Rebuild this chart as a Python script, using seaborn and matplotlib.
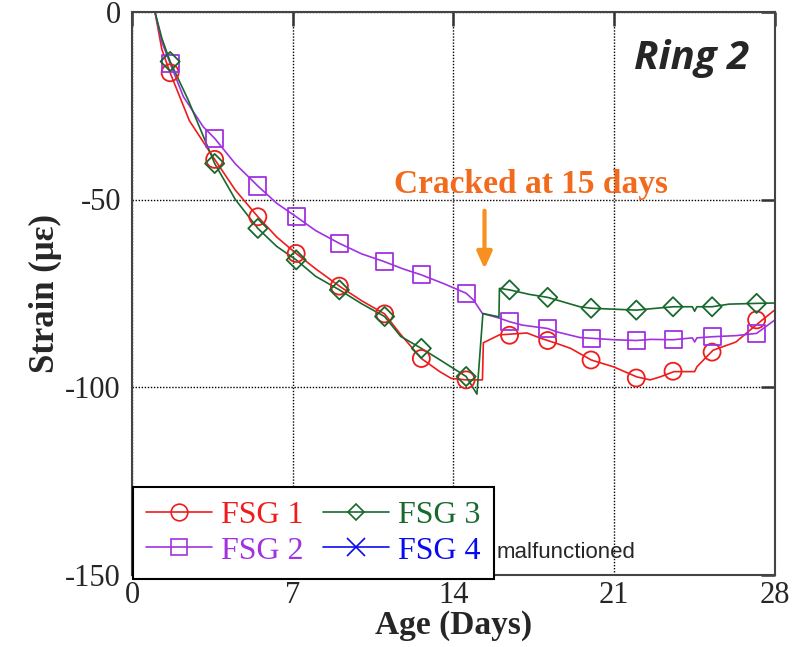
import numpy as np
import pandas as pd
import matplotlib
matplotlib.use("Agg")
import matplotlib.pyplot as plt
from matplotlib.lines import Line2D
import seaborn as sns

# ---------------- data ----------------
marker_days = [1.66, 3.6, 5.48, 7.15, 9.03, 11.0, 12.6, 14.55, 16.44, 18.1, 19.99, 21.96, 23.56, 25.26, 27.2]
fsg1_markers = [-16.2, -39.3, -54.6, -64.4, -73.1, -80.5, -92.4, -98.1, -86.2, -87.6, -92.8, -97.6, -95.8, -90.7, -82.1]
fsg2_markers = [-13.7, -33.7, -46.4, -54.6, -61.7, -66.6, -70.1, -75.0, -82.6, -84.4, -87.0, -87.6, -87.4, -86.6, -85.7]
fsg3_markers = [-13.2, -40.4, -57.7, -66.1, -74.1, -81.2, -89.7, -97.2, -74.1, -76.1, -79.0, -79.5, -78.6, -78.6, -77.7]

fsg1_days = [1.0, 1.3, 1.66, 2.5, 3.6, 4.5, 5.48, 6.3, 7.15, 8.0, 9.03, 10.0, 11.0, 11.7, 12.6, 13.4, 13.9,
             14.55, 15.26, 15.3, 16.0, 17.2, 17.8, 18.5, 19.1, 20.0, 20.96, 21.98, 22.56, 23.0, 23.6, 24.5,
             24.6, 25.3, 26.3, 26.9, 27.45, 28.0]
fsg1_strain = [0.0, -10.0, -16.2, -29.0, -39.3, -47.5, -54.6, -60.0, -64.4, -68.5, -73.1, -77.0, -80.5, -86.0,
               -92.4, -95.9, -97.7, -98.1, -98.1, -88.2, -86.1, -85.6, -87.0, -88.4, -89.7, -92.8, -94.6, -97.3,
               -98.1, -97.3, -95.9, -95.9, -94.6, -90.2, -88.0, -84.9, -82.1, -79.4]

fsg2_days = [1.0, 1.3, 1.66, 2.24, 3.1, 3.6, 4.5, 5.48, 6.3, 7.15, 8.0, 9.03, 10.0, 11.0, 11.8, 12.6, 13.6,
             14.55, 14.87, 15.26, 15.98, 16.44, 17.0, 18.1, 18.5, 19.5, 19.99, 21.0, 21.96, 22.6, 23.56, 24.4,
             24.5, 24.6, 25.26, 26.3, 27.2, 28.0]
fsg2_strain = [0.0, -8.0, -13.7, -22.6, -30.6, -33.7, -40.5, -46.4, -51.0, -54.6, -58.3, -61.7, -64.5, -66.6,
               -68.5, -70.1, -72.5, -75.0, -76.8, -80.4, -81.6, -82.6, -83.5, -84.4, -85.3, -86.8, -87.0, -87.4,
               -87.6, -87.3, -87.4, -86.9, -88.0, -86.9, -86.6, -86.3, -85.7, -82.1]

fsg3_days = [1.0, 1.3, 1.66, 2.45, 3.6, 4.5, 5.48, 6.3, 7.15, 8.0, 9.03, 10.0, 11.0, 11.7, 12.6, 13.42, 14.55,
             15.02, 15.28, 15.98, 16.0, 16.44, 17.3, 18.1, 19.5, 19.99, 21.96, 22.3, 23.56, 24.4, 24.5, 24.6,
             25.26, 26.0, 27.2, 28.0]
fsg3_strain = [0.0, -7.0, -13.2, -23.5, -40.4, -50.0, -57.7, -62.5, -66.1, -70.5, -74.1, -77.8, -81.2, -86.5,
               -89.7, -92.8, -97.2, -101.9, -80.4, -81.3, -73.7, -74.1, -75.3, -76.1, -78.6, -79.0, -79.5, -79.3,
               -78.6, -78.6, -79.8, -78.6, -78.6, -77.9, -77.7, -77.6]

series_names = ["FSG 1", "FSG 2", "FSG 3", "FSG 4"]
x_ticks = [0, 7, 14, 21, 28]
y_ticks = [0, -50, -100, -150]

# ---------------- style ----------------
sns.set_style("white")
plt.rcParams["font.family"] = ["Liberation Serif", "DejaVu Serif"]

RED = "#ee1c1c"
PURPLE = "#a032e0"
GREEN = "#17692c"
BLUE = "#0a0af0"
ORANGE_TXT = "#f26a1b"
ORANGE_ARW = "#f8901f"

fig = plt.figure(figsize=(8.0, 6.47), dpi=100)
ax = fig.add_axes([132 / 800, 1 - 574.5 / 647, (775 - 132) / 800, (574.5 - 12) / 647])

lw = 1.2
lines = [
    (fsg1_days, fsg1_strain, fsg1_markers, RED, "o", 150),
    (fsg2_days, fsg2_strain, fsg2_markers, PURPLE, "s", 150),
    (fsg3_days, fsg3_strain, fsg3_markers, GREEN, "D", 95),
]
for days, strain, mk, col, m, s in lines:
    df = pd.DataFrame({"day": days, "strain": strain})
    sns.lineplot(data=df, x="day", y="strain", ax=ax, color=col, linewidth=lw,
                 sort=False, estimator=None, legend=False)
    dm = pd.DataFrame({"day": marker_days, "strain": mk})
    sns.scatterplot(data=dm, x="day", y="strain", ax=ax, marker=m, s=s,
                    facecolor="none", edgecolor=col, linewidth=1.3, legend=False, zorder=3)

ax.set_xlim(0, 28)
ax.set_ylim(-150, 0)
ax.set_xticks(x_ticks)
ax.set_yticks(y_ticks)
ax.set_xticklabels([str(t) for t in x_ticks], fontsize=22)
ax.set_yticklabels([str(t) for t in y_ticks], fontsize=22)
ax.tick_params(direction="in", length=10, width=1.8, color="#333333",
               top=True, right=True, pad=8)
ax.tick_params(axis="x", pad=5)
for sp in ax.spines.values():
    sp.set_color("#444444")
    sp.set_linewidth(1.5)
ax.grid(True, color="black", linestyle=(0, (1, 1.2)), linewidth=1.0)
ax.set_axisbelow(True)

ax.set_xlabel("Age (Days)", fontsize=24, fontweight="bold", labelpad=0)
ax.set_ylabel("Strain (\u03bc\u03b5)", fontsize=25, fontweight="bold", labelpad=2)

# annotations
ax.text(0.87, 0.917, "Ring 2", transform=ax.transAxes, ha="center", va="center",
        fontsize=29, fontweight="bold", fontstyle="italic", family=["Open Sans", "DejaVu Sans"])
fig.text(531 / 800, 1 - 185 / 647, "Cracked at 15 days", ha="center", va="center",
         fontsize=24, fontweight="bold", color=ORANGE_TXT)
ax.annotate("", xy=(15.35, -68.5), xytext=(15.35, -53.0),
            arrowprops=dict(arrowstyle="-|>,head_length=1.0,head_width=0.45",
                            color=ORANGE_ARW, lw=3, shrinkA=0, shrinkB=0))
fig.text(497 / 800, 1 - 553 / 647, "malfunctioned", ha="left", va="center",
         fontsize=16, family=["Liberation Sans", "DejaVu Sans"])

# legend
handles = [
    Line2D([], [], color=RED, lw=lw, marker="o", ms=12, mfc="none", mec=RED, mew=1.2),
    Line2D([], [], color=PURPLE, lw=lw, marker="s", ms=11, mfc="none", mec=PURPLE, mew=1.2),
    Line2D([], [], color=GREEN, lw=lw, marker="D", ms=8, mfc="none", mec=GREEN, mew=1.2),
    Line2D([], [], color=BLUE, lw=lw, marker="x", ms=13, mfc="none", mec=BLUE, mew=1.2),
]
leg = fig.legend(handles, series_names, ncol=2, loc="upper left",
                 bbox_to_anchor=(133 / 800, 1 - 487 / 647), fontsize=23,
                 frameon=True, fancybox=False, framealpha=1, edgecolor="black",
                 handlelength=2.05, handletextpad=0.3, columnspacing=0.6,
                 labelspacing=0.2, borderpad=0.42, borderaxespad=0)
leg.get_frame().set_linewidth(1.5)
for txt, col in zip(leg.get_texts(), [RED, PURPLE, GREEN, BLUE]):
    txt.set_color(col)

fig.savefig("out.png", dpi=100)
